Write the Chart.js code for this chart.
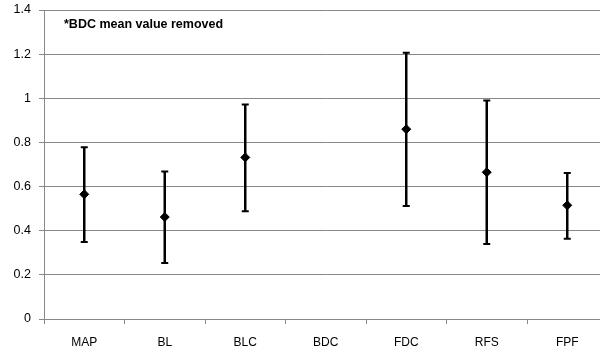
<!DOCTYPE html>
<html>
<head>
<meta charset="utf-8">
<script src="https://cdn.jsdelivr.net/npm/chart.js@4.4.0/dist/chart.umd.min.js"></script>
<style>
  html, body { margin: 0; padding: 0; background: #fff; overflow: hidden; width: 600px; height: 354px; }
  #wrap { width: 613px; height: 354px; }
</style>
</head>
<body>
<div id="wrap"><canvas id="c" width="613" height="354"></canvas></div>
<script>
const categories = ["MAP", "BL", "BLC", "BDC", "FDC", "RFS", "FPF"];
const meanValues = [0.565, 0.462, 0.732, null, 0.860, 0.665, 0.515];
const upperValues = [0.778, 0.668, 0.972, null, 1.206, 0.990, 0.662];
const lowerValues = [0.349, 0.254, 0.488, null, 0.512, 0.340, 0.364];
const yTicks = [0, 0.2, 0.4, 0.6, 0.8, 1, 1.2, 1.4];
const noteText = "*BDC mean value removed";

const FONT = "'Liberation Sans', Arial, sans-serif";

const errorBars = {
  id: 'errorBars',
  afterDatasetsDraw(chart) {
    const ctx = chart.ctx;
    const xs = chart.scales.x, ys = chart.scales.y;
    ctx.save();
    ctx.strokeStyle = '#000';
    categories.forEach((c, i) => {
      if (upperValues[i] == null || lowerValues[i] == null) return;
      const x = xs.getPixelForValue(i);
      const yt = ys.getPixelForValue(upperValues[i]);
      const yb = ys.getPixelForValue(lowerValues[i]);
      ctx.lineWidth = 2.5;
      ctx.beginPath();
      ctx.moveTo(x, yt); ctx.lineTo(x, yb);
      ctx.stroke();
      ctx.lineWidth = 2;
      ctx.beginPath();
      ctx.moveTo(x - 3.5, yt); ctx.lineTo(x + 3.5, yt);
      ctx.moveTo(x - 3.5, yb); ctx.lineTo(x + 3.5, yb);
      ctx.stroke();
    });
    ctx.restore();
  }
};

const note = {
  id: 'note',
  afterDraw(chart) {
    const ctx = chart.ctx;
    ctx.save();
    ctx.fillStyle = '#000';
    ctx.font = "bold 12.5px " + FONT;
    ctx.textBaseline = 'middle';
    ctx.fillText(noteText, chart.chartArea.left + 20, 25);
    ctx.restore();
  }
};

new Chart(document.getElementById('c'), {
  type: 'line',
  data: {
    labels: categories,
    datasets: [{
      data: meanValues,
      showLine: false,
      pointStyle: 'rectRot',
      pointRadius: 4.5,
      pointBackgroundColor: '#000',
      pointBorderColor: '#000',
      pointBorderWidth: 1
    }]
  },
  options: {
    responsive: false,
    animation: false,
    layout: { padding: { top: 10, left: 0, right: 3, bottom: 0 } },
    plugins: { legend: { display: false }, tooltip: { enabled: false } },
    scales: {
      x: {
        offset: true,
        grid: { offset: true, drawOnChartArea: false, drawTicks: true, tickLength: 5, color: '#888' },
        border: { color: '#888', width: 1 },
        ticks: { color: '#000', font: { family: FONT, size: 12 }, padding: 11 },
        afterFit(s) { s.height = 35; s.paddingLeft = 0; s.paddingRight = 0; }
      },
      y: {
        min: 0, max: 1.4,
        afterBuildTicks(s) { s.ticks = yTicks.map(v => ({ value: v })); },
        grid: { color: '#888', lineWidth: 1, tickLength: 5, drawTicks: true },
        border: { color: '#888', width: 1 },
        ticks: { color: '#000', font: { family: FONT, size: 12.5 }, padding: 8,
                 callback: v => String(v) },
        afterFit(s) { s.width = 44; s.paddingTop = 0; s.paddingBottom = 0; }
      }
    }
  },
  plugins: [errorBars, note]
});
</script>
</body>
</html>
